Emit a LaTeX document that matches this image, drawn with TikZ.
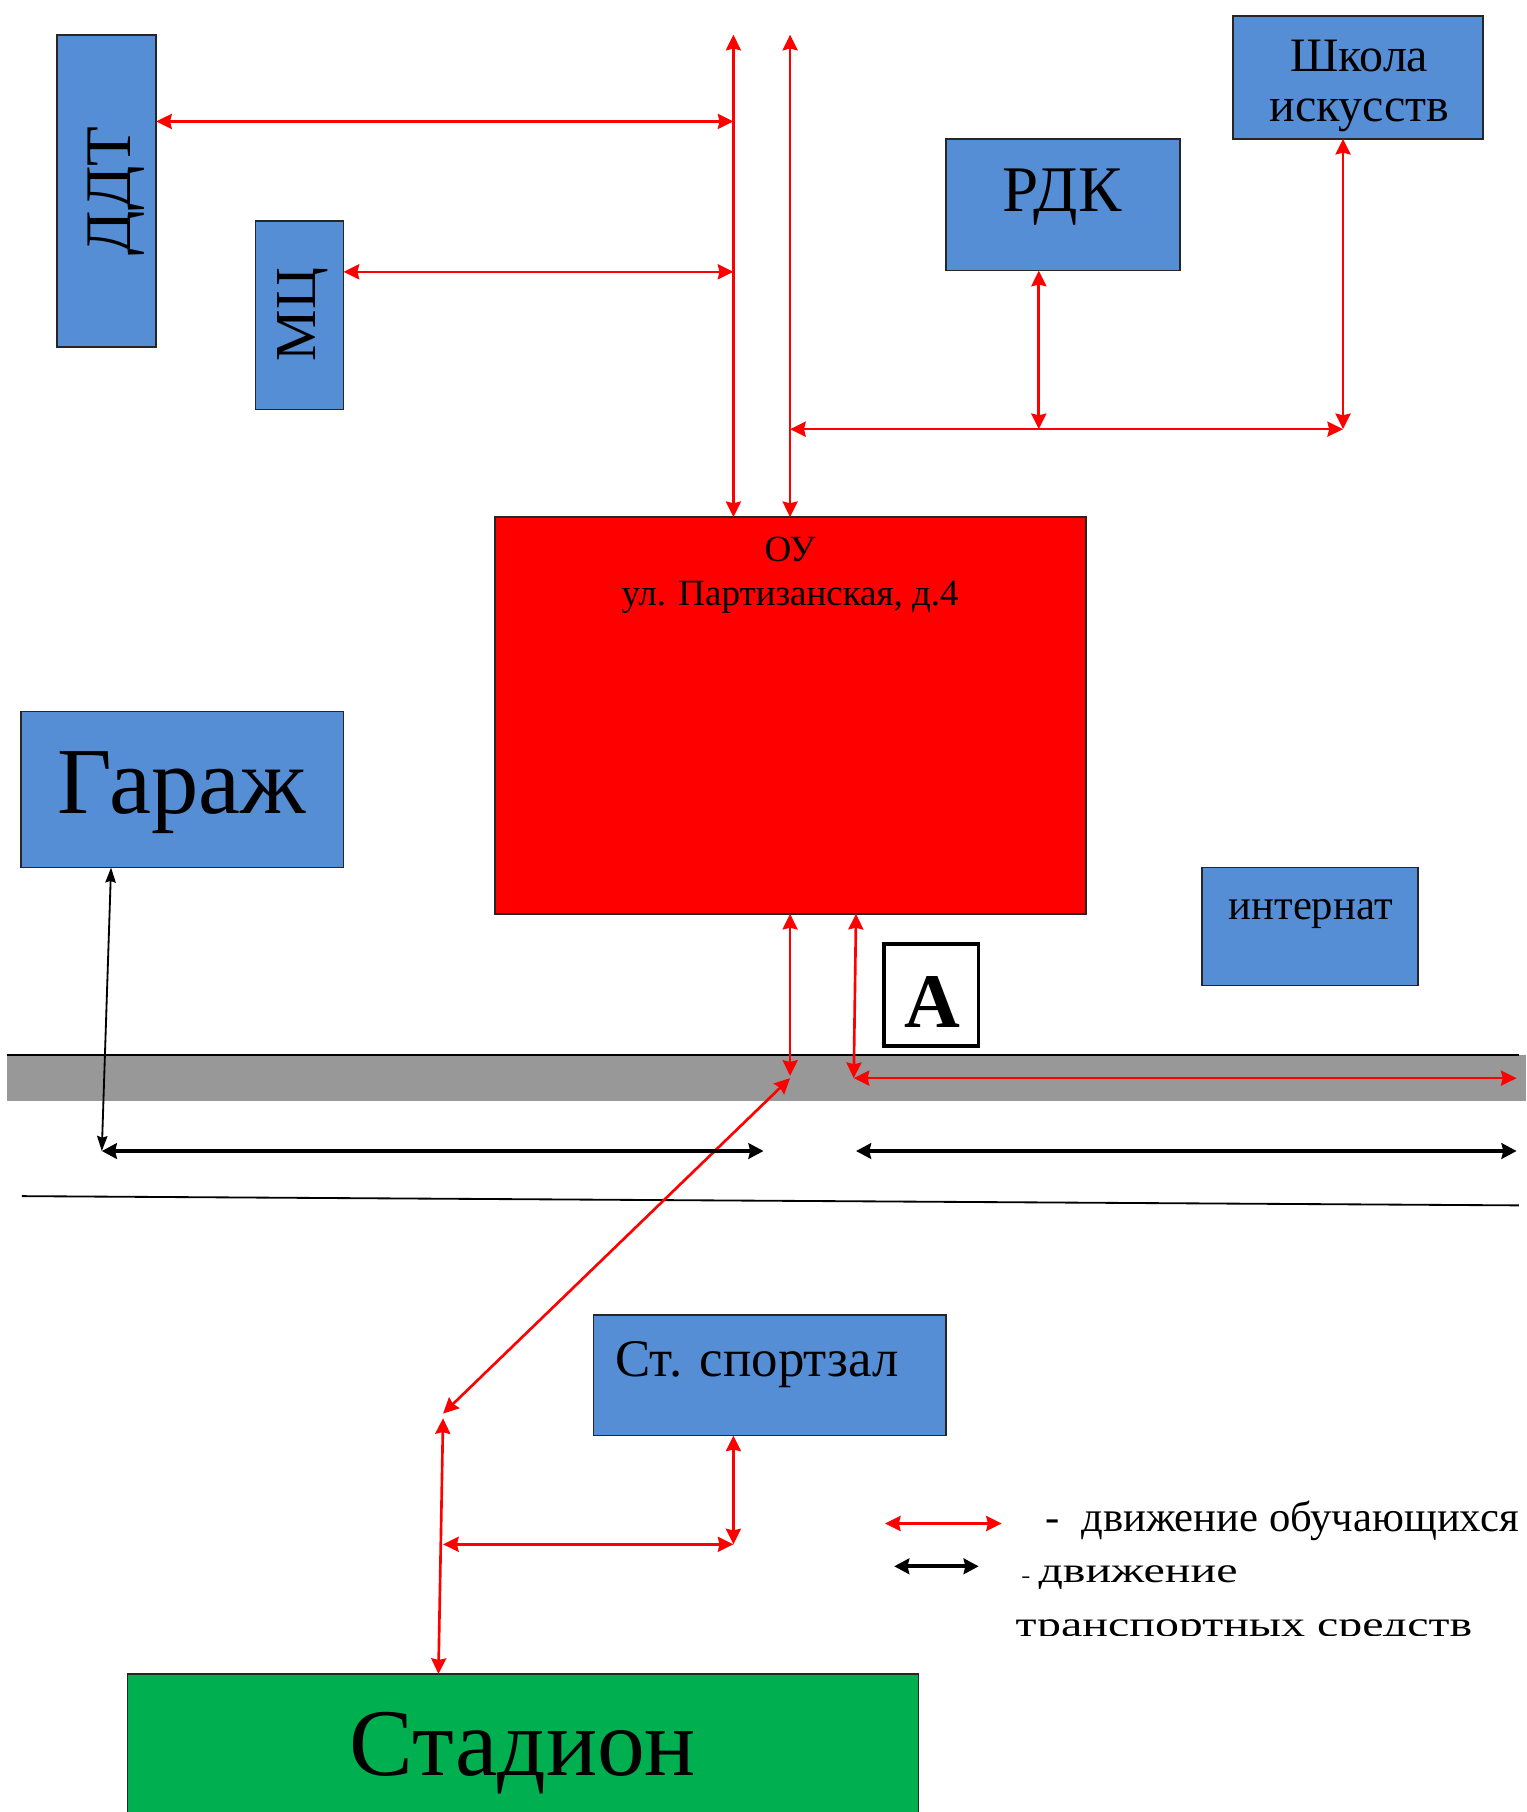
\documentclass[tikz,border=0pt]{standalone}
\usepackage{fontspec}
\setmainfont{Liberation Serif}
\usetikzlibrary{arrows.meta}
\definecolor{boxblue}{RGB}{85,142,213}
\definecolor{stadgreen}{RGB}{0,176,80}
\definecolor{roadgray}{RGB}{152,152,152}
\newcommand{\fs}[1]{\fontsize{#1}{1.2\dimexpr #1pt\relax}\selectfont}
\begin{document}
\begin{tikzpicture}[x=0.02cm,y=-0.02cm,
  bbox/.style={draw=black!85, line width=0.8pt, fill=boxblue, inner sep=0pt, outer sep=0pt},
  txt/.style={inner sep=0pt, outer sep=0pt},
  rtip/.tip={Stealth[length=0.27cm,width=0.26cm,inset=0.03cm]},
  ktip/.tip={Stealth[length=0.26cm,width=0.27cm,inset=0.03cm]},
  ra/.style={draw=red, line width=1.3pt, rtip-rtip},
  ka/.style={draw=black, line width=1.8pt, ktip-ktip},
  kthin/.style={draw=black, line width=0.9pt, {Stealth[length=0.26cm,width=0.18cm,inset=0.03cm]}-{Stealth[length=0.26cm,width=0.18cm,inset=0.03cm]}}
]
\clip (0,0) rectangle (1320,1566.4);
\fill[white] (0,0) rectangle (1320,1566.4);

% road
\fill[roadgray] (6,912) rectangle (1319,952);
\draw[black, line width=1pt] (6,912) -- (1313,912);
\draw[black, line width=0.9pt] (19,1034) -- (1313,1042);

% boxes
\node[bbox, minimum width=1.72cm, minimum height=5.4cm] (ddt) at (92,165) {};
\node[txt, rotate=90, font=\fs{32}] (ddtt) at (100,165) {ДДТ};
\node[bbox, minimum width=1.52cm, minimum height=3.26cm] (mc) at (259,272.5) {};
\node[txt, rotate=90, font=\fs{28.5}] (mct) at (262,272) {МЦ};
\node[bbox, minimum width=4.04cm, minimum height=2.28cm] (rdk) at (919,177) {};
\node[txt, anchor=base, font=\fs{32}] (rdkt) at (918,183) {РДК};
\node[bbox, minimum width=4.32cm, minimum height=2.12cm] (shk) at (1174,67) {};
\node[txt, anchor=base, font=\fs{23.6}] (shkt1) at (1175,62) {Школа};
\node[txt, anchor=base, font=\fs{23.6}] (shkt2) at (1175,105) {искусств};
\node[draw=black!85, line width=0.8pt, fill=red, inner sep=0pt, outer sep=0pt, minimum width=10.22cm, minimum height=6.86cm] (ou) at (683.5,618.5) {};
\node[txt, anchor=base, font=\fs{18.2}] (out1) at (683,485) {ОУ};
\node[txt, anchor=base, font=\fs{18.2}] (out2) at (683,523) {ул. Партизанская, д.4};
\node[bbox, minimum width=5.58cm, minimum height=2.7cm] (gar) at (157.5,682.5) {};
\node[txt, anchor=base, font=\fs{46.5}] (gart) at (157,703) {Гараж};
\node[bbox, minimum width=3.74cm, minimum height=2.04cm] (int) at (1132.5,801) {};
\node[txt, anchor=base, font=\fs{21}] (intt) at (1133,795) {интернат};
\node[draw=black, line width=1.8pt, fill=white, inner sep=0pt, outer sep=0pt, minimum width=1.64cm, minimum height=1.76cm] (abox) at (805,860) {};
\node[txt, anchor=base, font=\fs{38}\bfseries] (at) at (806,888) {А};
\node[bbox, minimum width=6.1cm, minimum height=2.08cm] (sz) at (665.5,1189) {};
\node[txt, anchor=base west, font=\fs{26}] (szt) at (532,1190) {Ст. спортзал};
\node[draw=black!85, line width=0.8pt, fill=stadgreen, inner sep=0pt, outer sep=0pt, minimum width=13.68cm, minimum height=2.6cm] (std) at (452,1512) {};
\node[txt, anchor=base, font=\fs{47}] (stdt) at (452,1535) {Стадион};

% coordinates
\coordinate (t1) at (634,30);
\coordinate (t2) at (683,30);
\coordinate (j1) at (634,105);
\coordinate (j2) at (634,235);
\coordinate (j3) at (683,371);
\coordinate (j4) at (1161,371);
\coordinate (j5) at (898,371);
\coordinate (r1) at (683,930);
\coordinate (r2) at (738,932);
\coordinate (r3) at (1311,932);
\coordinate (d1) at (683,932);
\coordinate (d2) at (383,1222);
\coordinate (d3) at (383,1226);
\coordinate (s1) at (383,1335);
\coordinate (s2) at (634,1335);
\coordinate (g1) at (88,995);
\coordinate (g2) at (660,995);
\coordinate (g3) at (740,995);
\coordinate (g4) at (1311,995);

% red arrows
\draw[ra] (t1) -- (ou.north -| t1);
\draw[ra] (t2) -- (ou.north -| t2);
\draw[ra] (ddt.east |- j1) -- (j1);
\draw[ra] (mc.east |- j2) -- (j2);
\draw[ra] (j3) -- (j4);
\draw[ra] (rdk.south -| j5) -- (j5);
\draw[ra] (shk.south -| j4) -- (j4);
\draw[ra] (ou.south -| r1) -- (r1);
\draw[ra] (ou.south -| 740,0) -- (r2);
\draw[ra] (r2) -- (r3);
\draw[ra] (d1) -- (d2);
\draw[ra] (d3) -- (std.north -| 379,0);
\draw[ra] (s1) -- (s2);
\draw[ra] (sz.south -| s2) -- (s2);

% black arrows
\draw[kthin] (gar.south -| 96,0) -- (g1);
\draw[ka] (g1) -- (g2);
\draw[ka] (g3) -- (g4);

% legend
\coordinate (l1a) at (765,1317);
\coordinate (l1b) at (866,1317);
\coordinate (l2a) at (773,1354);
\coordinate (l2b) at (846,1354);
\draw[ra] (l1a) -- (l1b);
\draw[ka] (l2a) -- (l2b);
\node[txt, anchor=base west, font=\fs{21}] (leg1) at (904,1324) {-\hspace{0.5em}движение обучающихся};
\node[txt, anchor=base west, font=\fs{17.6}, xscale=1.34] (leg2) at (883,1368) {{\fs{10}-}\,движение};
\begin{scope}
\clip (850,1380) rectangle (1320,1414);
\node[txt, anchor=base west, font=\fs{17.6}, xscale=1.34] (leg3) at (878,1415) {транспортных средств};
\end{scope}
\end{tikzpicture}
\end{document}
